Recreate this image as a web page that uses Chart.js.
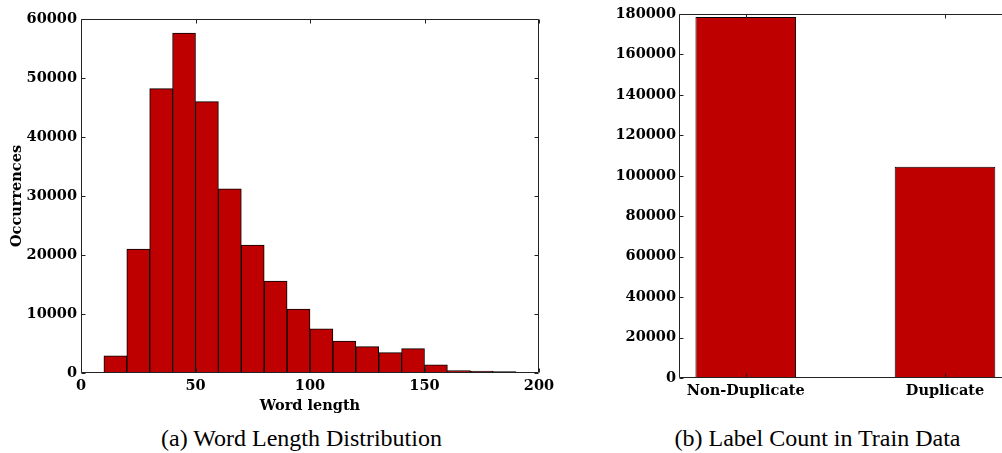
<!DOCTYPE html>
<html><head><meta charset="utf-8">
<script src="https://cdn.jsdelivr.net/npm/chart.js@4.4.1/dist/chart.umd.min.js"></script>
<style>
html,body{margin:0;padding:0;background:#fff;overflow:hidden;width:1002px;height:453px;}
#c1wrap{position:absolute;left:0;top:0;width:560px;height:425px;}
#c2wrap{position:absolute;left:580px;top:0;width:422px;height:425px;}
.cap{position:absolute;top:426px;font-family:"Liberation Serif","Times New Roman",serif;font-size:24px;line-height:24px;white-space:nowrap;transform:translateX(-50%);color:#000;}
</style></head><body>
<div id="c1wrap"><canvas id="c1"></canvas></div>
<div id="c2wrap"><canvas id="c2"></canvas></div>
<div class="cap" style="left:301.5px">(a) Word Length Distribution</div>
<div class="cap" style="left:817.5px">(b) Label Count in Train Data</div>
<script>
// ---- data: (a) word length histogram (bins of width 10) ----
const binCenters = [15,25,35,45,55,65,75,85,95,105,115,125,135,145,155,165,175,185];
const binCounts  = [2900,21000,48200,57600,46000,31200,21700,15600,10850,7500,5420,4460,3440,4120,1380,400,330,250];
const histXMin = 0, histXMax = 200, histXStep = 50;
const histYMin = 0, histYMax = 60000, histYStep = 10000;

// ---- data: (b) label count ----
const labelCategories = ['Non-Duplicate','Duplicate'];
const labelCounts = [178500, 104500];
const labelYMin = 0, labelYMax = 180000, labelYStep = 20000;

const BAR_COLOR = '#bf0000';
const tickFont = {family:'"DejaVu Serif", serif', weight:'bold', size:14.5};

const framePlugin = {
  id:'frame',
  afterDraw(chart, args, opts){
    const {ctx, chartArea:a, scales} = chart;
    ctx.save();
    ctx.strokeStyle = '#222'; ctx.lineWidth = 1;
    const L=Math.round(a.left)+0.5, R=Math.round(a.right)-0.5, T=Math.round(a.top)+0.5, B=Math.round(a.bottom)-0.5;
    ctx.beginPath();
    ctx.moveTo(L,B); ctx.lineTo(L,T); ctx.lineTo(opts.right?R:a.right+2,T);
    if(opts.right){ ctx.lineTo(R,B); }
    ctx.moveTo(L,B); ctx.lineTo(opts.right?R:a.right+2,B);
    ctx.stroke();
    const len=4;
    ctx.beginPath();
    scales.x.ticks.forEach(t=>{const px=Math.round(scales.x.getPixelForValue(t.value))+0.5; ctx.moveTo(px,B); ctx.lineTo(px,B-len); ctx.moveTo(px,T); ctx.lineTo(px,T+len);});
    scales.y.ticks.forEach(t=>{const py=Math.round(scales.y.getPixelForValue(t.value))+0.5; ctx.moveTo(L,py); ctx.lineTo(L+len,py); if(opts.right){ctx.moveTo(R,py); ctx.lineTo(R-len,py);} });
    ctx.stroke();
    ctx.restore();
  }
};

new Chart(document.getElementById('c1'), {
  type:'bar',
  data:{datasets:[{
    data: binCenters.map((x,i)=>({x:x, y:binCounts[i]})),
    backgroundColor:BAR_COLOR, borderColor:'#000', borderWidth:1, borderSkipped:false,
    barPercentage:1, categoryPercentage:1
  }]},
  options:{
    responsive:true, maintainAspectRatio:false, animation:false,
    layout:{padding:{top:19,right:21,left:0,bottom:0}},
    plugins:{legend:{display:false}, tooltip:{enabled:false}, frame:{right:true}},
    scales:{
      x:{type:'linear', min:histXMin, max:histXMax, offset:false,
         grid:{display:false, drawTicks:false}, border:{display:false},
         ticks:{stepSize:histXStep, padding:5, color:'#000', font:tickFont, callback:v=>String(v), maxRotation:0},
         title:{display:true, text:'Word length', color:'#000', font:tickFont, padding:{top:0,bottom:10}},
         afterFit:s=>{s.height=52;}},
      y:{min:histYMin, max:histYMax,
         grid:{display:false, drawTicks:false}, border:{display:false},
         ticks:{stepSize:histYStep, padding:4, color:'#000', font:tickFont, callback:v=>String(v)},
         title:{display:true, text:'Occurrences', color:'#000', font:tickFont, padding:{top:9,bottom:0}},
         afterFit:s=>{s.width=81;}}
    }
  },
  plugins:[framePlugin]
});

new Chart(document.getElementById('c2'), {
  type:'bar',
  data:{datasets:[{
    data: labelCounts.map((y,i)=>({x:i, y:y})),
    backgroundColor:BAR_COLOR, borderColor:'#000', borderWidth:1, borderSkipped:false,
    barPercentage:0.505, categoryPercentage:1
  }]},
  options:{
    responsive:true, maintainAspectRatio:false, animation:false,
    layout:{padding:{top:14,right:0,left:0,bottom:0}},
    plugins:{legend:{display:false}, tooltip:{enabled:false}, frame:{right:false}},
    scales:{
      x:{type:'linear', min:-0.335, max:1.286, offset:false,
         grid:{display:false, drawTicks:false}, border:{display:false},
         afterBuildTicks:s=>{s.ticks = labelCategories.map((_,i)=>({value:i}));},
         ticks:{padding:5, color:'#000', font:tickFont, callback:v=>labelCategories[v], maxRotation:0, autoSkip:false},
         afterFit:s=>{s.height=47;}},
      y:{min:labelYMin, max:labelYMax,
         grid:{display:false, drawTicks:false}, border:{display:false},
         ticks:{stepSize:labelYStep, padding:3, color:'#000', font:tickFont, callback:v=>String(v)},
         afterFit:s=>{s.width=99;}}
    }
  },
  plugins:[framePlugin]
});
</script>
</body></html>
